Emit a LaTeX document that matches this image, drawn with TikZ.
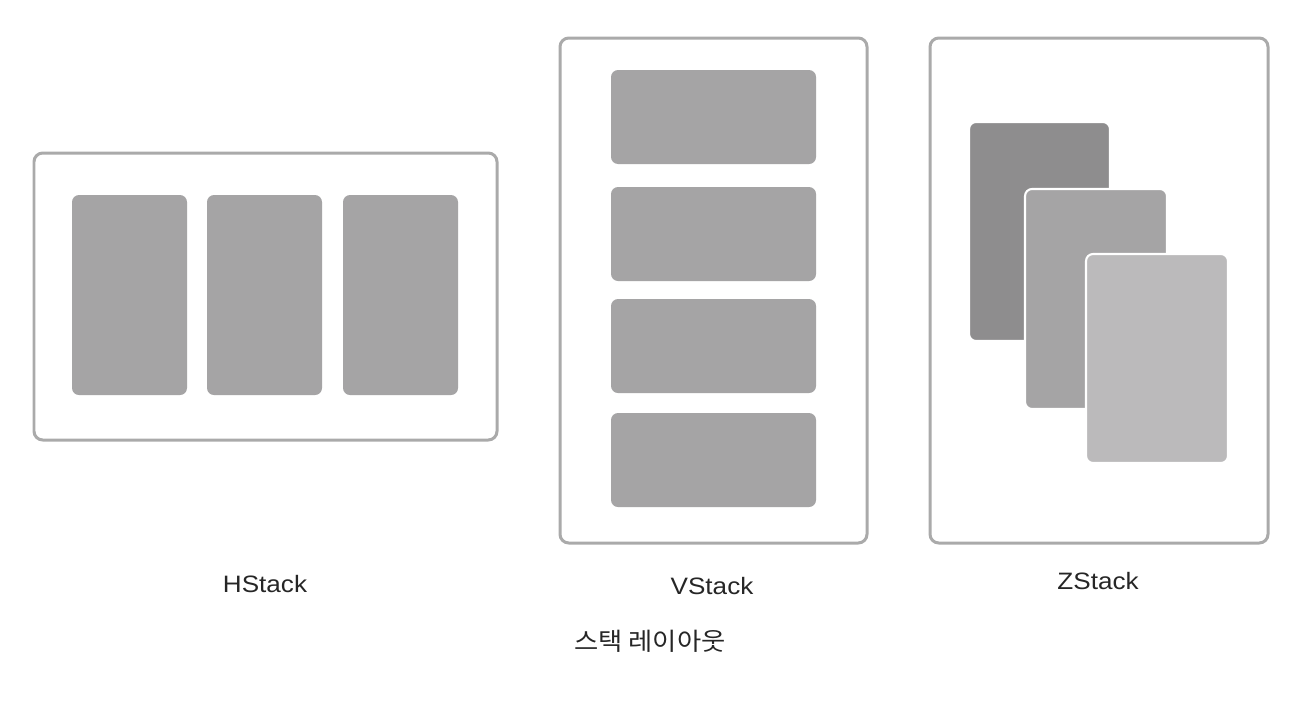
\documentclass[tikz,border=0pt]{standalone}
\usepackage{fontspec}
\setmainfont{Liberation Sans}
\newfontfamily\krfont{Noto Sans CJK KR}
\usetikzlibrary{calc}

\definecolor{frame}{RGB}{170,170,170}
\definecolor{cardmid}{RGB}{165,164,165}
\definecolor{carddark}{RGB}{142,141,142}
\definecolor{cardlight}{RGB}{187,186,187}

\begin{document}
\begin{tikzpicture}[x=0.02cm,y=-0.02cm,
    outer/.style={draw=frame,line width=1.7pt,rounded corners=5pt,fill=white},
    card/.style={fill=cardmid,rounded corners=4pt},
    zcard/.style={draw=white,line width=1.2pt,rounded corners=4pt},
    caption/.style={font=\fontsize{13.5}{15}\selectfont,text=black!85,xscale=1.1}]
    \useasboundingbox (0,0) rectangle (1310,708);
    % HStack
    \draw[outer] (34,153) rectangle (497,440);
    \foreach \x in {72,207,343}
        \fill[card] (\x,195) rectangle (\x+115,395);
    \node[caption] (hlabel) at (265,584) {HStack};
    % VStack
    \draw[outer] (560,38) rectangle (867,543);
    \foreach \y in {70,187,299,413}
        \fill[card] (611,\y) rectangle (816,\y+94);
    \node[caption] (vlabel) at (712,586) {VStack};
    % ZStack
    \draw[outer] (930,38) rectangle (1268,543);
    \draw[zcard,fill=carddark] (969,122) rectangle (1110,341);
    \draw[zcard,fill=cardmid] (1025,189) rectangle (1167,409);
    \draw[zcard,fill=cardlight] (1086,254) rectangle (1228,463);
    \node[caption] (zlabel) at (1098,581) {ZStack};
    % title
    \node[font=\krfont\fontsize{14}{16}\selectfont,text=black!85,xscale=1.07] (title) at (650,641) {스택 레이아웃};
\end{tikzpicture}
\end{document}
